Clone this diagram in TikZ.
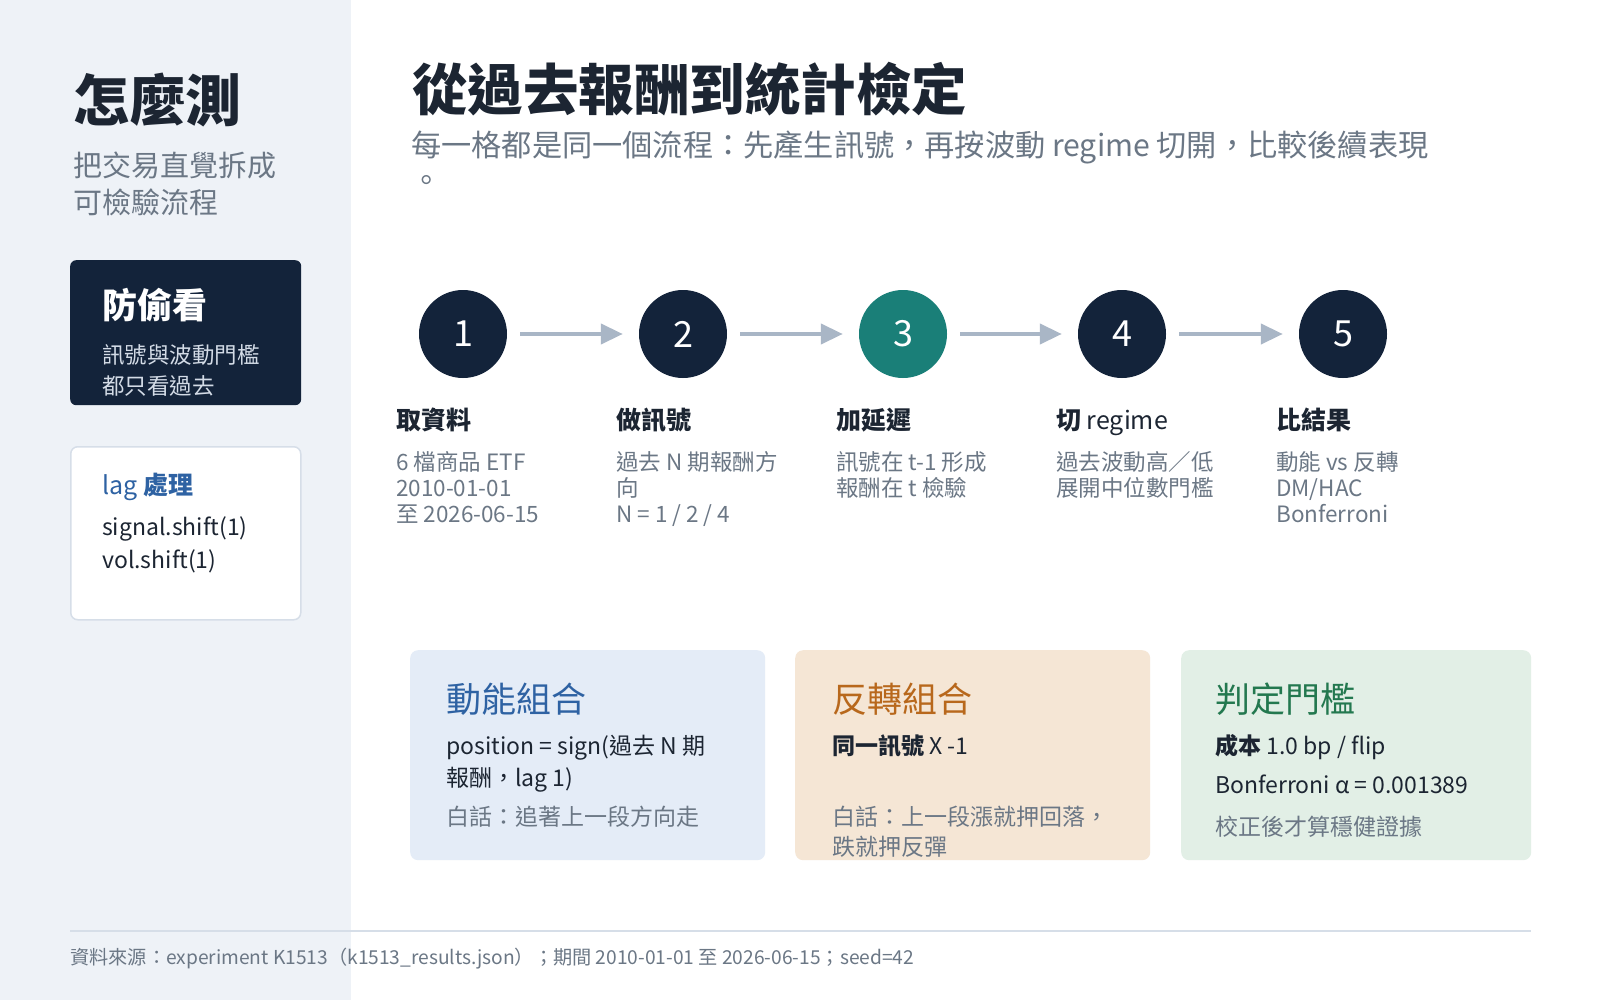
\documentclass[tikz,border=0pt]{standalone}
\usepackage{fontspec}
\setmainfont{Noto Sans CJK TC}
\usetikzlibrary{arrows.meta}
\definecolor{sidebg}{HTML}{EEF2F7}
\definecolor{navy}{HTML}{13233A}
\definecolor{teal}{HTML}{1A7F78}
\definecolor{arrowgray}{HTML}{A9B6C6}
\definecolor{inkdark}{HTML}{1C2532}
\definecolor{inkgray}{HTML}{6B7785}
\definecolor{inkblue}{HTML}{2E62A3}
\definecolor{inkorange}{HTML}{B8681C}
\definecolor{inkgreen}{HTML}{23784F}
\definecolor{cardblue}{HTML}{E4ECF7}
\definecolor{cardorange}{HTML}{F5E6D5}
\definecolor{cardgreen}{HTML}{E2EFE6}
\definecolor{boxline}{HTML}{D6DEE8}
\definecolor{guardtext}{HTML}{D3DBE6}
\newcommand{\fs}[2]{\fontsize{#1}{#2}\selectfont}
\begin{document}
\begin{tikzpicture}[x=1pt,y=-1pt,
  txt/.style={anchor=base west, inner sep=0, align=left},
  stepcircle/.style={circle, fill=navy, minimum size=88, inner sep=0, text=white, font=\fs{36}{40}},
  flow/.style={draw=arrowgray, line width=4pt, -{Triangle[length=22pt,width=20pt]}, shorten <=13pt, shorten >=16pt},
  steptitle/.style={txt, text=inkdark, font=\fs{25}{30}\bfseries},
  stepdesc/.style={txt, text=inkgray, font=\fs{22.5}{26}},
  card/.style={anchor=north west, inner sep=0, rounded corners=8, minimum height=210},
  cardtitle/.style={txt, font=\fs{35}{40}},
  cardbody/.style={txt, text=inkdark, font=\fs{23}{32}},
  cardnote/.style={txt, text=inkgray, font=\fs{23}{30}}
]
\useasboundingbox (0,0) rectangle (1600,1000);
\fill[white] (0,0) rectangle (1600,1000);
\fill[sidebg] (0,0) rectangle (351,1000);

% sidebar
\node[txt, text=inkdark, font=\fs{56}{60}\bfseries] (side_title) at (73,122) {怎麼測};
\node[txt, text=inkgray, font=\fs{29}{37}] (side_sub) at (73,214) {把交易直覺拆成\\可檢驗流程};

\node[anchor=north west, inner sep=0, fill=navy, rounded corners=6, minimum width=231, minimum height=145] (guard) at (70,260) {};
\node[txt, text=white, font=\fs{35}{40}\bfseries] (guard_title) at (102,318) {防偷看};
\node[txt, text=guardtext, font=\fs{22.5}{31}] (guard_body) at (102,394) {訊號與波動門檻\\都只看過去};

\node[anchor=north west, inner sep=0, fill=white, draw=boxline, line width=1.5pt, rounded corners=7, minimum width=230, minimum height=173] (lagbox) at (70,446) {};
\node[txt, text=inkblue, font=\fs{25}{30}] (lag_title) at (102,494) {lag \textbf{處理}};
\node[txt, text=inkdark, font=\fs{23}{33}] (lag_body) at (102,568) {signal.shift(1)\\vol.shift(1)};

% header
\node[txt, text=inkdark, font=\fs{55.5}{60}\bfseries] (main_title) at (412,111) {從過去報酬到統計檢定};
\node[txt, text=inkgray, font=\fs{30.2}{35}] (main_sub) at (411,192) {每一格都是同一個流程：先產生訊號，再按波動 regime 切開，比較後續表現\\。};

% steps
\node[stepcircle] (s1) at (463,334) {1};
\node[stepcircle] (s2) at (683,334) {2};
\node[stepcircle, fill=teal] (s3) at (903,334) {3};
\node[stepcircle] (s4) at (1122,334) {4};
\node[stepcircle] (s5) at (1343,334) {5};
\draw[flow] (s1) -- (s2);
\draw[flow] (s2) -- (s3);
\draw[flow] (s3) -- (s4);
\draw[flow] (s4) -- (s5);

\node[steptitle] (t1) at (396,429) {取資料};
\node[steptitle] (t2) at (616,429) {做訊號};
\node[steptitle] (t3) at (836,429) {加延遲};
\node[steptitle] (t4) at (1056,429) {切 \mdseries regime};
\node[steptitle] (t5) at (1276,429) {比結果};

\node[stepdesc] (d1) at (396,522) {6 檔商品 ETF\\2010-01-01\\至 2026-06-15};
\node[stepdesc] (d2) at (616,522) {過去 N 期報酬方\\向\\N = 1 / 2 / 4};
\node[stepdesc] (d3) at (836,496) {訊號在 t-1 形成\\報酬在 t 檢驗};
\node[stepdesc] (d4) at (1056,496) {過去波動高／低\\展開中位數門檻};
\node[stepdesc] (d5) at (1276,522) {動能 vs 反轉\\DM/HAC\\Bonferroni};

% cards
\node[card, fill=cardblue, minimum width=355] (card1) at (410,650) {};
\node[card, fill=cardorange, minimum width=355] (card2) at (795,650) {};
\node[card, fill=cardgreen, minimum width=350] (card3) at (1181,650) {};

\node[cardtitle, text=inkblue] (c1t) at (446,712) {動能組合};
\node[cardbody] (c1b) at (446,786) {position = sign(過去 N 期\\報酬，lag 1)};
\node[cardnote] (c1n) at (446,825) {白話：追著上一段方向走};

\node[cardtitle, text=inkorange] (c2t) at (832,712) {反轉組合};
\node[cardbody, font=\fs{23}{32}\bfseries] (c2b) at (832,754) {同一訊號 \mdseries X -1};
\node[cardnote] (c2n) at (832,855) {白話：上一段漲就押回落，\\跌就押反彈};

\node[cardtitle, text=inkgreen] (c3t) at (1215,712) {判定門檻};
\node[cardbody] (c3b) at (1215,754) {\textbf{成本} 1.0 bp / flip};
\node[cardbody] (c3c) at (1215,793) {Bonferroni α = 0.001389};
\node[cardnote] (c3n) at (1215,835) {校正後才算穩健證據};

% footer
\coordinate (fl1) at (70,931);
\coordinate (fl2) at (1531,931);
\draw[boxline, line width=2pt] (fl1) -- (fl2);
\node[txt, text=inkgray, font=\fs{19.2}{22}] (footer) at (70,964) {資料來源：experiment K1513（k1513\_results.json）；期間 2010-01-01 至 2026-06-15；seed=42};
\end{tikzpicture}
\end{document}
